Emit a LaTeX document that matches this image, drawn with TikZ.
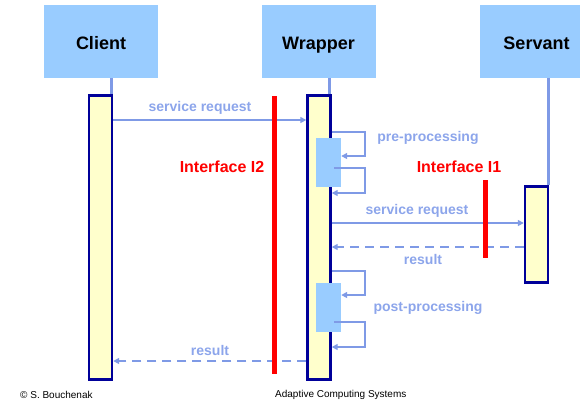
\documentclass[tikz,border=0pt]{standalone}
\usepackage{fontspec}
\setmainfont{Liberation Sans}
\usetikzlibrary{arrows.meta}
\definecolor{headblue}{HTML}{99CCFF}
\definecolor{lifeblue}{HTML}{7F9AE6}
\definecolor{labelblue}{HTML}{8CA5EB}
\definecolor{actfill}{HTML}{FFFFCC}
\definecolor{actline}{HTML}{000099}
\tikzset{
  headbox/.style={rectangle, fill=headblue, minimum width=114pt, minimum height=73pt,
    inner sep=0pt},
  headlabel/.style={anchor=base, inner sep=0pt, font=\fontsize{18}{20}\selectfont\bfseries},
  actbox/.style={rectangle, draw=actline, fill=actfill, line width=2.4pt,
    minimum width=23pt, inner sep=0pt},
  procbox/.style={rectangle, fill=headblue, minimum width=25pt, minimum height=49pt, inner sep=0pt},
  ifbar/.style={rectangle, fill=red, minimum width=5pt, inner sep=0pt},
  lifeline/.style={draw=lifeblue, line width=3pt},
  msg/.style={draw=lifeblue, line width=2pt, -{Triangle[length=6pt,width=6pt]}},
  reply/.style={msg, dash pattern=on 9pt off 6pt},
  msglabel/.style={text=labelblue, inner sep=0pt, font=\fontsize{14}{16}\selectfont\bfseries},
  iflabel/.style={text=red, inner sep=0pt, font=\fontsize{16}{18}\selectfont\bfseries},
  foot/.style={inner sep=0pt, font=\fontsize{10}{12}\selectfont}
}
\begin{document}
\begin{tikzpicture}[x=1pt, y=-1pt]
\useasboundingbox (0,0) rectangle (580,400);
\clip (0,0) rectangle (580,400);

% participants
\node[headbox] (client) at (101,41.5) {};
\node[headbox] (wrapper) at (318.5,41.5) {};
\node[headbox] (servant) at (536.5,41.5) {};
\node[headlabel] (clientname) at (101,49) {Client};
\node[headlabel] (wrappername) at (318.5,49) {Wrapper};
\node[headlabel] (servantname) at (536.5,49) {Servant};

% activation bars
\node[actbox, minimum height=284pt] (cact) at (100.5,237.5) {};
\node[actbox, minimum height=284pt] (wact) at (319,237.5) {};
\node[actbox, minimum height=96pt] (sact) at (536.5,234.5) {};

% lifelines
\draw[lifeline] ([xshift=-2pt]cact.north east) -- ([xshift=-2pt]cact.north east |- client.south);
\draw[lifeline] ([xshift=-2pt]wact.north east) -- ([xshift=-2pt]wact.north east |- wrapper.south);
\draw[lifeline] ([xshift=-1pt]sact.north east) -- ([xshift=-1pt]sact.north east |- servant.south);

% processing blocks inside the wrapper
\node[procbox] (pre) at (328.5,162.5) {};
\node[procbox] (post) at (328.5,307.5) {};

% row heights of the messages
\coordinate (r1) at (0,120);
\coordinate (p1) at (0,132);
\coordinate (p2) at (0,156);
\coordinate (p3) at (0,168);
\coordinate (p4) at (0,193);
\coordinate (r2) at (0,223);
\coordinate (r3) at (0,247);
\coordinate (q1) at (0,271);
\coordinate (q2) at (0,295);
\coordinate (q3) at (0,322);
\coordinate (q4) at (0,347);
\coordinate (r4) at (0,361);
\coordinate (loopx) at (365,0);

% messages
\draw[msg] (cact.east |- r1) -- (wact.west |- r1);
\draw[msg] (wact.east |- p1) -- (loopx |- p1) -- (loopx |- p2) -- (pre.east |- p2);
\draw[msg] ([xshift=-7pt]pre.east |- p3) -- (loopx |- p3) -- (loopx |- p4) -- (wact.east |- p4);
\draw[msg] (wact.east |- r2) -- (sact.west |- r2);
\draw[reply] (sact.west |- r3) -- (wact.east |- r3);
\draw[msg] (wact.east |- q1) -- (loopx |- q1) -- (loopx |- q2) -- (post.east |- q2);
\draw[msg] ([xshift=-7pt]post.east |- q3) -- (loopx |- q3) -- (loopx |- q4) -- (wact.east |- q4);
\draw[reply] (wact.west |- r4) -- (cact.east |- r4);

% interfaces
\node[ifbar, minimum height=278pt] (i2) at (274,235) {};
\node[ifbar, minimum height=78pt] (i1) at (485,219) {};

% labels
\node[msglabel] (l1) at (200,108) {service request};
\node[msglabel] (l2) at (428,138) {pre-processing};
\node[msglabel] (l3) at (417,211) {service request};
\node[msglabel] (l4) at (423,259) {result};
\node[msglabel] (l5) at (428,308) {post-processing};
\node[msglabel] (l6) at (210,350) {result};
\node[iflabel] (t2) at (222,167) {Interface I2};
\node[iflabel] (t1) at (459,167) {Interface I1};

% footer
\node[foot, anchor=west] (f1) at (20,395) {© S. Bouchenak};
\node[foot, anchor=west] (f2) at (275,395) {Adaptive Computing Systems};
\end{tikzpicture}
\end{document}
